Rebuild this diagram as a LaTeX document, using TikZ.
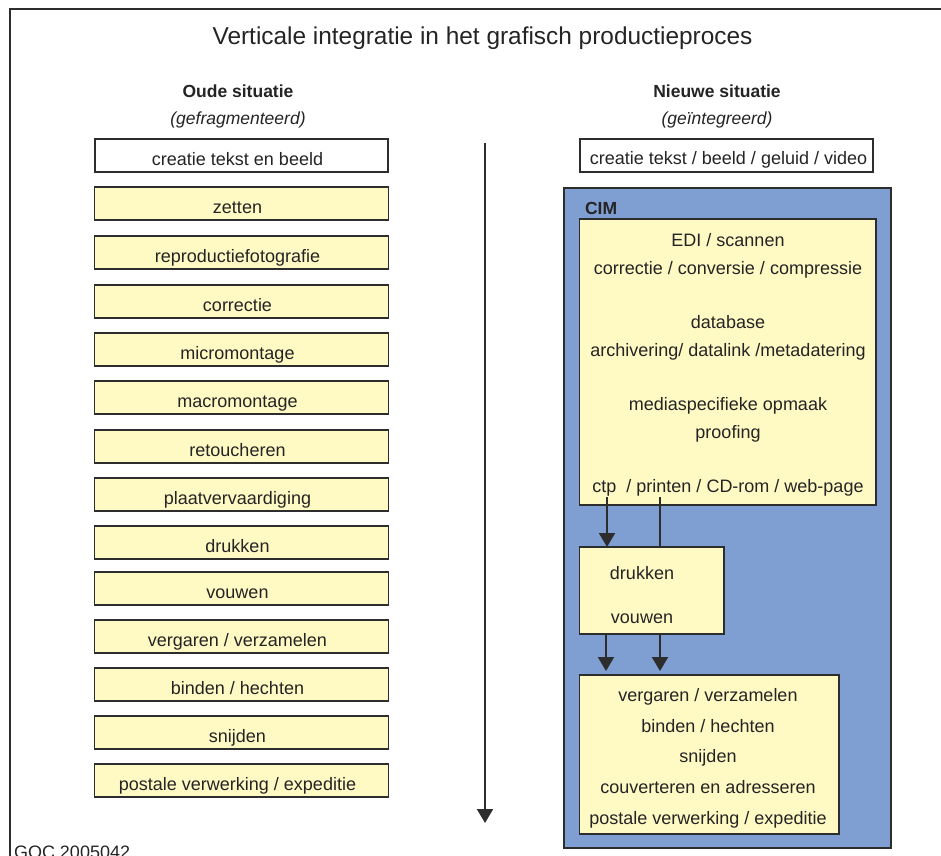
\documentclass[tikz,border=0pt]{standalone}
\usepackage{fontspec}
\setmainfont{Liberation Sans}
\usetikzlibrary{arrows.meta}
\definecolor{boxyellow}{RGB}{255,249,196}
\definecolor{cimblue}{RGB}{127,159,210}
\definecolor{edgegray}{RGB}{45,45,45}
\begin{document}
\begin{tikzpicture}[x=1pt,y=-1pt,
  every node/.style={inner sep=0pt, outer sep=0pt},
  body/.style={font=\fontsize{18}{21}\selectfont, text=edgegray!80!black},
  ybox/.style={draw=edgegray, line width=1.8pt, fill=boxyellow},
  wbox/.style={draw=edgegray, line width=1.8pt, fill=white},
  arr/.style={draw=edgegray, line width=2pt, -{Triangle[width=16pt,length=14pt]}},
  plainline/.style={draw=edgegray, line width=2pt}]
\useasboundingbox (0,0) rectangle (941,855);
% frame
\draw[edgegray, line width=1.3pt] (10,860) -- (10,9) -- (945,9);
% title
\node[anchor=base, font=\fontsize{24.4}{28}\selectfont, text=edgegray!80!black] (title) at (482.5,44) {Verticale integratie in het grafisch productieproces};
\node[anchor=base, body, font=\fontsize{17.5}{21}\selectfont\bfseries] (oude) at (238,97) {Oude situatie};
\node[anchor=base, body, font=\fontsize{17.5}{21}\selectfont\itshape] (oudesub) at (238,124) {(gefragmenteerd)};
\node[anchor=base, body, font=\fontsize{17.5}{21}\selectfont\bfseries] (nieuw) at (717,97) {Nieuwe situatie};
\node[anchor=base, body, font=\fontsize{17.5}{21}\selectfont\itshape] (nieuwsub) at (717,124) {(geïntegreerd)};
% left column
\node[wbox, minimum width=293pt, minimum height=33pt] (o0) at (241.75,155.5) {};
\node[anchor=base, body] (t0) at (237.5,165.5) {creatie tekst en beeld};
\foreach \i/\y/\txt in {1/187/{zetten}, 2/236/{reproductiefotografie}, 3/285/{correctie}, 4/333/{micromontage},
  5/381/{macromontage}, 6/430/{retoucheren}, 7/478/{plaatvervaardiging}, 8/526/{drukken}, 9/572/{vouwen},
  10/620/{vergaren / verzamelen}, 11/668/{binden / hechten}, 12/716/{snijden}, 13/764/{postale verwerking / expeditie}}{
  \node[ybox, minimum width=294pt, minimum height=33pt] (o\i) at (241.5,\y+16.5) {};
  \node[anchor=base, body] (t\i) at (237.5,\y+26) {\txt};
}
% central arrow
\coordinate (ctop) at (485,143);
\coordinate (cbot) at (485,823);
\draw[arr] (ctop) -- (cbot);
% right column
\node[wbox, minimum width=293pt, minimum height=33pt] (n0) at (726.5,155.5) {};
\node[anchor=base, body] (nt0) at (728.5,164.5) {creatie tekst / beeld / geluid / video};
\node[draw=edgegray, line width=1.8pt, fill=cimblue, minimum width=327pt, minimum height=660pt] (cim) at (727.5,518) {};
\node[anchor=base west, body, font=\fontsize{17.5}{21}\selectfont\bfseries] (cimlabel) at (585,214.5) {CIM};
\node[ybox, minimum width=296.5pt, minimum height=286pt] (inner) at (727.75,362) {};
\foreach \j/\y/\txt in {1/246.5/{EDI / scannen}, 2/274/{correctie / conversie / compressie},
  3/328.5/{database}, 4/356/{archivering/ datalink /metadatering},
  5/410.5/{mediaspecifieke opmaak}, 6/438/{proofing}, 7/492.5/{ctp \ / printen / CD-rom / web-page}}{
  \node[anchor=base, body] (it\j) at (728,\y) {\txt};
}
\node[ybox, minimum width=144.5pt, minimum height=87pt] (druk) at (651.75,590.5) {};
\node[anchor=base, body] (dt1) at (642,579.5) {drukken};
\node[anchor=base, body] (dt2) at (642,623.5) {vouwen};
\node[ybox, minimum width=259.5pt, minimum height=159pt] (fin) at (709.25,754.5) {};
\foreach \k/\y/\txt in {1/701.5/{vergaren / verzamelen}, 2/732.5/{binden / hechten}, 3/762.5/{snijden},
  4/793.5/{couverteren en adresseren}, 5/824/{postale verwerking / expeditie}}{
  \node[anchor=base, body] (ft\k) at (708,\y) {\txt};
}
% connectors inside CIM
\coordinate (c1) at (607,497);
\coordinate (c2) at (660,497);
\draw[arr] (c1) -- (c1 |- druk.north);
\draw[plainline] (c2) -- (c2 |- druk.north);
\coordinate (c3) at (606,634);
\coordinate (c4) at (660,634);
\draw[arr, shorten >=4pt] (c3 |- druk.south) -- (c3 |- fin.north);
\draw[arr, shorten >=4pt] (c4 |- druk.south) -- (c4 |- fin.north);
% footer
\node[anchor=base west, body] (goc) at (14,858.5) {GOC 2005042};
\end{tikzpicture}
\end{document}
